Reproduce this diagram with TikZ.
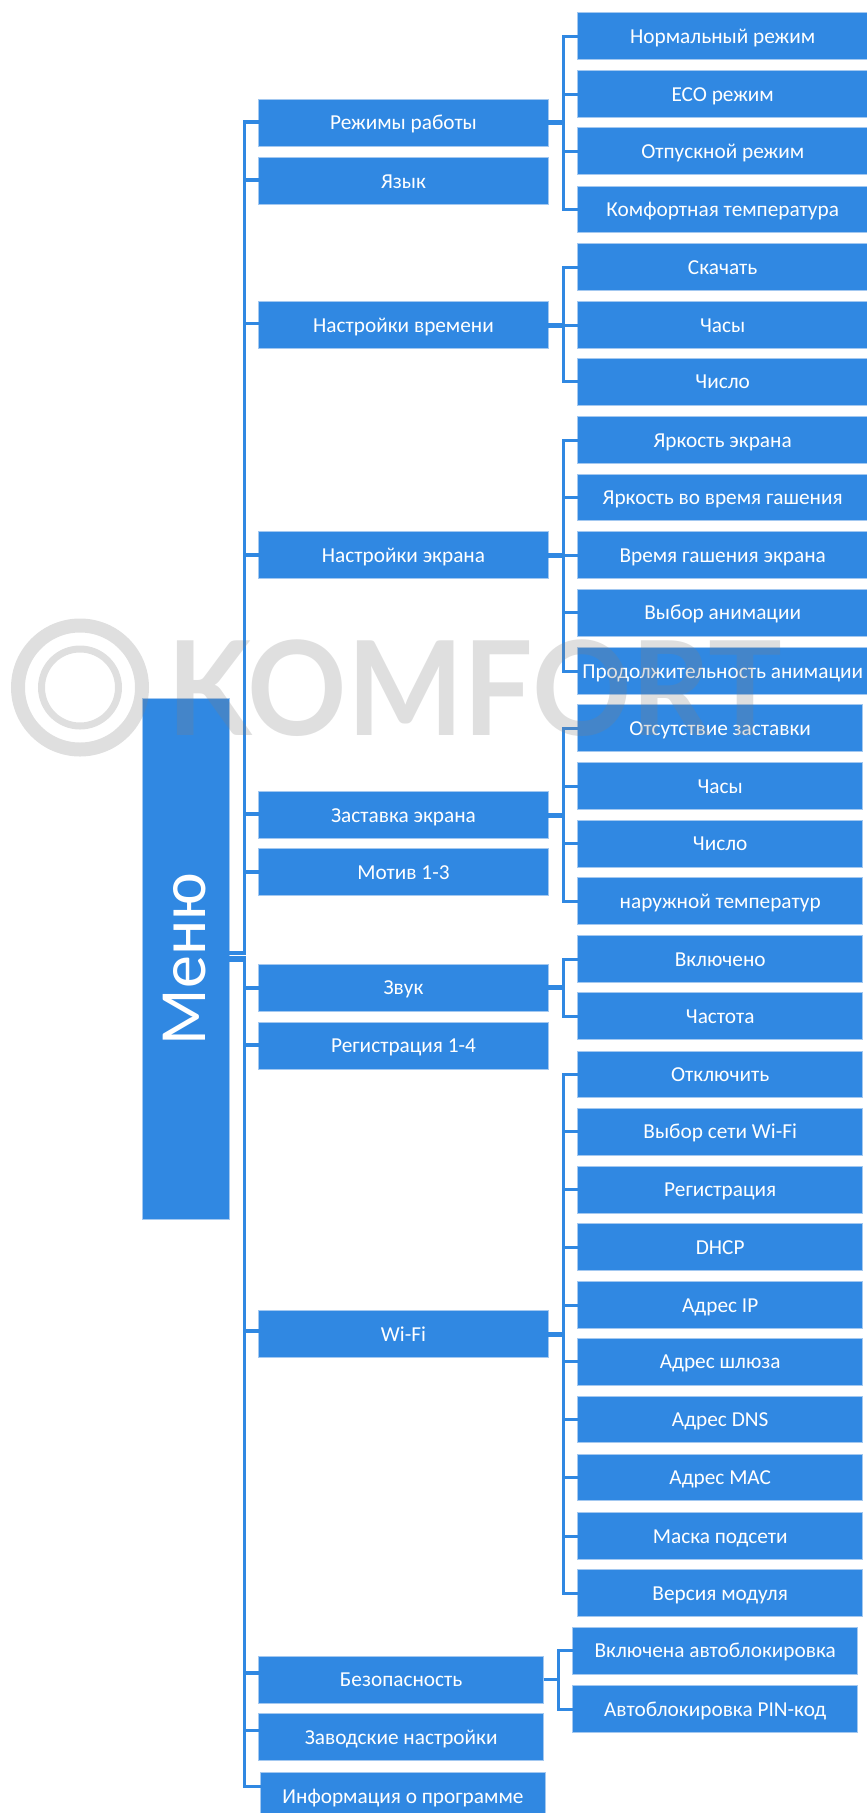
\documentclass[tikz,border=0pt]{standalone}
\usepackage{fontspec}
\setmainfont{Carlito}
\newfontfamily\logofont{Lato}
\usetikzlibrary{calc}
\definecolor{boxblue}{HTML}{3088E2}
\definecolor{boxedge}{HTML}{A3C8F0}
\definecolor{markgray}{HTML}{808080}
\tikzset{
  box/.style={fill=boxblue,draw=boxedge,line width=1pt,inner sep=0pt,outer sep=0pt,
    text=white,font=\fontsize{21.3}{24}\selectfont,minimum height=46.7pt,
    text height=15pt,text depth=1pt,anchor=west},
  link/.style={draw=boxblue,line width=3pt},
  stem/.style={draw=boxblue,line width=3.6pt},
  ring/.style={draw=markgray,opacity=.25}
}
\begin{document}
\begin{tikzpicture}[x=1pt,y=-1pt]
      \useasboundingbox (0,0) rectangle (867,1813);
      \def\midx{258.7}\def\midw{289.6}
      \def\leafx{577.7}
      \coordinate (trunk) at (244.3,0);
      \def\menuBox{
        \node [box,anchor=center,rotate=90,minimum width=521pt,minimum height=86.6pt,
          text height=40pt,text depth=2pt,font=\fontsize{66}{70}\selectfont]
          (menu) at (186,959) {Меню};
      }
      \def\midBoxes{
        \foreach \n/\y/\t in {modes/122.7/Режимы работы,lang/181/Язык,
          time/325/Настройки времени,screen/555/Настройки экрана,
          saver/815/Заставка экрана,theme/872/Мотив 1-3,sound/987.7/Звук,
          login/1045.8/Регистрация 1-4,wifi/1334/Wi-Fi}
        \node [box,minimum width=\midw pt] (\n) at (\midx,\y) {\t};
        \node [box,minimum width=285pt] (safe) at (\midx,1679.7) {Безопасность};
        \node [box,minimum width=285pt] (reset) at (\midx,1737.3) {Заводские настройки};
        \node [box,minimum width=284.6pt] (about) at (260.7,1796) {Информация о программе};
      }
      \def\leafBoxes{
        \foreach \n/\y/\t in {m1/36/Нормальный режим,m2/94/ECO режим,m3/151.3/Отпускной режим,
          m4/209.5/Комфортная температура,t1/267/Скачать,t2/325/Часы,t3/381.7/Число,
          e1/440/Яркость экрана,e2/497.5/Яркость во время гашения,e3/555/Время гашения экрана,
          e4/612.7/Выбор анимации,e5/671/Продолжительность анимации}
        \node [box,minimum width=290pt] (\n) at (\leafx,\y) {\t};
        \foreach \n/\y/\t in {s1/728/Отсутствие заставки,s2/786/Часы,s3/843.7/Число,
          s4/901/наружной температур,z1/959/Включено,z2/1016/Частота,
          w1/1074.5/Отключить,w2/1131.7/Выбор сети Wi-Fi,w3/1189.7/Регистрация,w4/1247/DHCP,
          w5/1305/Адрес IP,w6/1361.8/Адрес шлюза,w7/1419.6/Адрес DNS,w8/1477.4/Адрес MAC,
          w9/1536/Маска подсети,w10/1593/Версия модуля}
        \node [box,minimum width=285pt] (\n) at (\leafx,\y) {\t};
        \node [box,minimum width=285pt] (k1) at (572.7,1650.7) {Включена автоблокировка};
        \node [box,minimum width=285pt] (k2) at (572.7,1709) {Автоблокировка PIN-код};
      }
      \def\showLines{
        % Draw trunk from the menu
        \foreach \n/\s/\o in {modes/-6/-1,lang/-6/-1,time/-6/-1.7,screen/-6/0,saver/-6/-1,theme/-6/0,
          sound/0/0,login/0/-1,wifi/0/-3,safe/-1.5/-7,reset/-1.5/-7,about/1.5/-9.5}
          \draw [stem] ($(menu.south)+(0,\s)$) -| ($(trunk |- \n.west)+(0,\o)$) -- ($(\n.west)+(0,\o)$);
        % Draw branches
        \foreach \p/\list in {modes/{m1,m2,m3,m4},time/{t1,t2,t3},
          screen/{e1,e2,e3,e4,e5},saver/{s1,s2,s3,s4},sound/{z1,z2},
          wifi/{w1,w2,w3,w4,w5,w6,w7,w8,w9,w10},safe/{k1,k2}}
          \foreach \c in \list
            \draw [link] (\p.east) -| ($(\c.west)+(-14.4,0)$) -- (\c.west);
        % Thicker stubs
        \foreach \p in {modes,time,screen,saver,sound,wifi}
          \draw [link,line width=5pt] (\p.east) -- ++(15,0);
      }
      \def\showMark{
        \draw [ring,line width=14pt] (80,687.5) circle (62);
        \draw [ring,line width=7pt] (80,687.5) circle (38.5);
        \node [anchor=center,inner sep=0pt,text=markgray,text opacity=.25,xscale=.94,transform shape,
          font=\logofont\bfseries\fontsize{131}{131}\selectfont] (mark) at (475,688) {KOMFORT};
      }
      \menuBox
      \midBoxes
      \leafBoxes
      \showLines
      \showMark
    \end{tikzpicture}
\end{document}
